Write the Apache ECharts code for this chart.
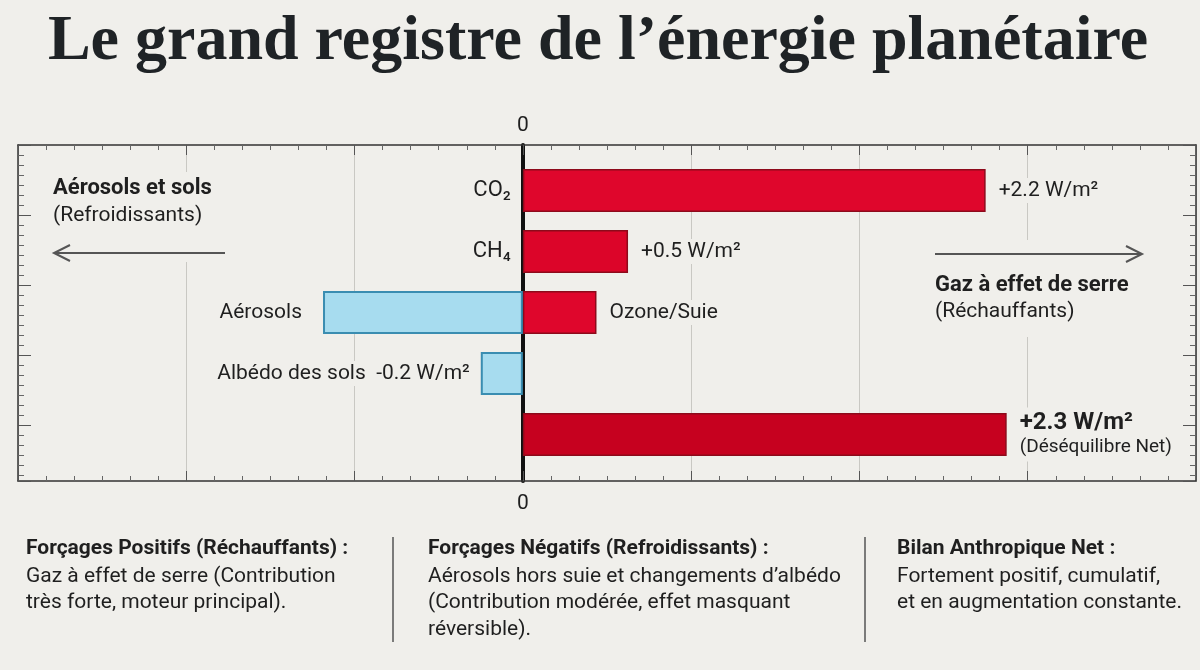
<!DOCTYPE html>
<html>
<head>
<meta charset="utf-8">
<title>Le grand registre de l'énergie planétaire</title>
<script src="https://cdn.jsdelivr.net/npm/echarts@6.0.0/dist/echarts.min.js"></script>
<style>
html, body { margin: 0; padding: 0; background: #f0efeb; }
#container { width: 1200px; height: 670px; }
</style>
</head>
<body>
<div id="container"></div>
<script>
// rows, top to bottom
var categories = ['CO₂', 'CH₄', 'Aérosols', 'Albédo des sols', 'Net'];
// W/m², warming part and cooling part of each row
var rechauffants = [2.2, 0.5, 0.35, null, 2.3];
var refroidissants = [null, null, -0.95, -0.2, null];
var labelsPositifs = ['+2.2 W/m²', '+0.5 W/m²', 'Ozone/Suie', '', '{b|+2.3 W/m²}\n{s|(Déséquilibre Net)}'];
var labelsNegatifs = ['', '', 'Aérosols', 'Albédo des sols  -0.2 W/m²', ''];
var nomsAxe = ['CO₂', 'CH₄', '', '', ''];   // names written just left of the zero line
var xMin = -2.4, xMax = 3.2, xStep = 0.8;

var FONT = 'Roboto, "Liberation Sans", Arial, sans-serif';
var BG = '#f0efeb';
var INK = '#1f1f1f';
var ROUGES = ['#df062c', '#dc0529', '#df062c', null, '#c6011f'];

var dom = document.getElementById('container');
var myChart = echarts.init(dom, null, { renderer: 'canvas' });

function frameXAxis(position, split, margin) {
    return {
        gridIndex: 0,
        type: 'value',
        position: position,
        min: xMin,
        max: xMax,
        interval: xStep,
        axisLine: { show: true, onZero: false, lineStyle: { color: '#333', width: 1.5 } },
        axisTick: { show: true, inside: true, length: 10, lineStyle: { color: '#555' } },
        minorTick: { show: true, splitNumber: 6, length: 5, lineStyle: { color: '#666' } },
        splitLine: { show: split, lineStyle: { color: '#c9c8c3', width: 1 } },
        axisLabel: {
            show: true,
            margin: margin,
            fontSize: 21,
            color: INK,
            fontFamily: FONT,
            formatter: function (v) { return Math.abs(v) < 1e-9 ? '0' : ''; }
        }
    };
}

function frameYAxis(position) {
    return {
        gridIndex: 0,
        type: 'value',
        position: position,
        inverse: true,
        min: 0,
        max: 4.8,
        interval: 1,
        axisLine: { show: true, onZero: false, lineStyle: { color: '#333', width: 1.5 } },
        axisTick: { show: true, inside: true, length: 13, lineStyle: { color: '#555' } },
        minorTick: { show: true, splitNumber: 7, length: 6, lineStyle: { color: '#666' } },
        splitLine: { show: false },
        axisLabel: { show: false }
    };
}

function buildData(values, labels, colors, extra) {
    var out = [];
    for (var i = 0; i < values.length; i++) {
        if (values[i] == null) {
            out.push('-');
            continue;
        }
        var item = { value: values[i], label: { show: labels[i] !== '' } };
        if (colors && colors[i]) item.itemStyle = { color: colors[i] };
        if (extra && extra[i]) item.label.distance = extra[i];
        out.push(item);
    }
    return out;
}

function textBlock(x, y, head, body) {
    return [
        { type: 'text', left: x, top: y, style: { text: head, font: 'bold 21px ' + FONT, fill: INK } },
        { type: 'text', left: x, top: y + 25, style: { text: body, font: '21px ' + FONT, fill: INK, lineHeight: 26.5 } }
    ];
}

var option = {
    backgroundColor: BG,
    animation: false,
    grid: [
        { left: 18, right: 4, top: 145, bottom: 189, outerBoundsMode: 'none' },   // frame with ticks
        { left: 18, right: 4, top: 160, bottom: 205, outerBoundsMode: 'none' }    // bars
    ],
    xAxis: [
        frameXAxis('top', true, 9),
        frameXAxis('bottom', false, 12),
        { gridIndex: 1, type: 'value', min: xMin, max: xMax, show: false }
    ],
    yAxis: [
        frameYAxis('left'),
        frameYAxis('right'),
        {
            // the thick zero line, full height of the frame
            gridIndex: 0, type: 'value', min: 0, max: 4.8,
            axisLine: { show: true, onZero: true, lineStyle: { color: '#111', width: 4 } },
            axisTick: { show: false }, axisLabel: { show: false }, splitLine: { show: false }
        },
        {
            gridIndex: 1,
            type: 'category',
            inverse: true,
            data: categories,
            show: false
        }
    ],
    series: [
        {
            name: 'Réchauffants',
            type: 'bar',
            xAxisIndex: 2,
            yAxisIndex: 3,
            barWidth: 43,
            barGap: '-100%',
            z: 3,
            itemStyle: { borderColor: '#8d0a1b', borderWidth: 1.5 },
            label: {
                position: 'right',
                distance: 10,
                color: INK,
                fontFamily: FONT,
                fontSize: 21,
                backgroundColor: BG,
                padding: [2, 3],
                formatter: function (p) { return labelsPositifs[p.dataIndex]; },
                rich: {
                    b: { fontSize: 24, fontWeight: 'bold', lineHeight: 26, color: INK, fontFamily: FONT },
                    s: { fontSize: 19, lineHeight: 24, color: INK, fontFamily: FONT }
                }
            },
            data: buildData(rechauffants, labelsPositifs, ROUGES, [0, 0, 0, 0, 10])
        },
        {
            // same bars, invisible, only to carry the gas names left of zero
            name: 'Noms',
            type: 'bar',
            xAxisIndex: 2,
            yAxisIndex: 3,
            barWidth: 43,
            barGap: '-100%',
            z: 2,
            silent: true,
            itemStyle: { color: 'rgba(0,0,0,0)' },
            label: {
                position: 'left',
                distance: 12,
                color: INK,
                fontFamily: FONT,
                fontSize: 22,
                formatter: function (p) { return nomsAxe[p.dataIndex]; }
            },
            data: buildData(rechauffants, nomsAxe, null, null)
        },
        {
            name: 'Refroidissants',
            type: 'bar',
            xAxisIndex: 2,
            yAxisIndex: 3,
            barWidth: 43,
            barGap: '-100%',
            z: 3,
            itemStyle: { color: '#a7dcef', borderColor: '#3a8db1', borderWidth: 2 },
            label: {
                position: 'left',
                distance: 10,
                color: INK,
                fontFamily: FONT,
                fontSize: 21,
                backgroundColor: BG,
                padding: [2, 3],
                formatter: function (p) { return labelsNegatifs[p.dataIndex]; }
            },
            data: buildData(refroidissants, labelsNegatifs, null, [0, 0, 18, 8, 0])
        }
    ],
    graphic: [
        {
            type: 'text', x: 598, y: 42,
            style: {
                text: 'Le grand registre de l\u2019énergie planétaire',
                font: 'bold 64px "Liberation Serif", "DejaVu Serif", serif',
                fill: '#1f2326', align: 'center', verticalAlign: 'middle'
            }
        },
        // side annotations (boxes hide the grid lines behind them)
        { type: 'rect', shape: { x: 45, y: 172, width: 190, height: 90 }, style: { fill: BG }, z: 5 },
        { type: 'text', left: 53, top: 177, z: 6, style: { text: 'Aérosols et sols', font: 'bold 22px ' + FONT, fill: INK } },
        { type: 'text', left: 53, top: 205, z: 6, style: { text: '(Refroidissants)', font: '21px ' + FONT, fill: INK } },
        { type: 'polyline', z: 6, shape: { points: [[225, 253], [54, 253]] }, style: { stroke: '#555', lineWidth: 2 } },
        { type: 'polyline', z: 6, shape: { points: [[70, 245], [54, 253], [70, 261]] }, style: { stroke: '#555', lineWidth: 2, fill: null } },
        { type: 'rect', shape: { x: 928, y: 240, width: 222, height: 97 }, style: { fill: BG }, z: 5 },
        { type: 'polyline', z: 6, shape: { points: [[935, 254], [1142, 254]] }, style: { stroke: '#555', lineWidth: 2 } },
        { type: 'polyline', z: 6, shape: { points: [[1126, 246], [1142, 254], [1126, 262]] }, style: { stroke: '#555', lineWidth: 2, fill: null } },
        { type: 'text', left: 935, top: 274, z: 6, style: { text: 'Gaz à effet de serre', font: 'bold 22px ' + FONT, fill: INK } },
        { type: 'text', left: 935, top: 301, z: 6, style: { text: '(Réchauffants)', font: '21px ' + FONT, fill: INK } },
        // footer
        { type: 'line', shape: { x1: 393, y1: 537, x2: 393, y2: 642 }, style: { stroke: '#555', lineWidth: 1.5 } },
        { type: 'line', shape: { x1: 865, y1: 537, x2: 865, y2: 642 }, style: { stroke: '#555', lineWidth: 1.5 } }
    ]
        .concat(textBlock(26, 538, 'Forçages Positifs (Réchauffants) :',
            'Gaz à effet de serre (Contribution\ntrès forte, moteur principal).'))
        .concat(textBlock(428, 538, 'Forçages Négatifs (Refroidissants) :',
            'Aérosols hors suie et changements d\u2019albédo\n(Contribution modérée, effet masquant\nréversible).'))
        .concat(textBlock(897, 538, 'Bilan Anthropique Net :',
            'Fortement positif, cumulatif,\net en augmentation constante.'))
};

myChart.setOption(option);
</script>
</body>
</html>
